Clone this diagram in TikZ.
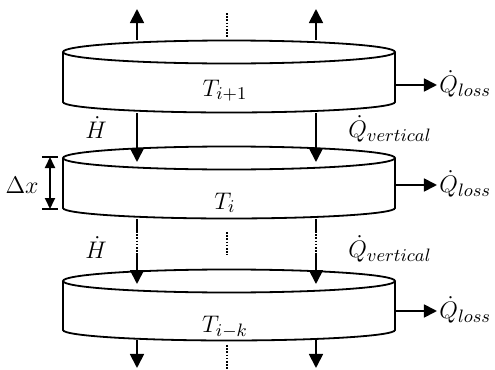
\documentclass[tikz,border=0pt]{standalone}
\usepackage{amsmath}
\usetikzlibrary{arrows.meta,calc}
\tikzset{
  slab/.style={draw=black, line width=0.9pt, fill=white},
  flow/.style={-{Triangle[length=7pt,width=7pt]}, line width=0.9pt},
  lossarrow/.style={-{Triangle[length=6.5pt,width=6.5pt]}, line width=0.9pt},
  dimarrow/.style={{Triangle[length=5.5pt,width=5pt]}-{Triangle[length=5.5pt,width=5pt]}, line width=0.9pt},
  gap/.style={line width=0.6pt, dash pattern=on 0.8pt off 0.8pt},
  lbl/.style={font=\fontsize{13}{15}\selectfont, inner sep=1pt}
}
\begin{document}
\begin{tikzpicture}[x=0.5pt,y=-0.5pt]
\useasboundingbox (0,0) rectangle (495,370);
% slabs
\foreach \yt/\yb in {52/102, 158/208, 281/330}{
  \draw[slab] (63,\yt) -- (63,\yb) arc[start angle=180,end angle=0,x radius=166,y radius=10.5] -- (395,\yt);
  \draw[slab] (229,\yt) ellipse [x radius=166, y radius=11.5];
}
\node[lbl, anchor=base] (t1) at (225,96) {$T_{i+1}$};
\node[lbl, anchor=base] (t2) at (225,209) {$T_{i}$};
\node[lbl, anchor=base] (t3) at (225,332) {$T_{i-k}$};

% flow columns
\foreach \s/\x in {l/137, r/316}{
  \coordinate (\s0) at (\x,9);
  \coordinate (\s1) at (\x,40);
  \coordinate (\s2) at (\x,113);
  \coordinate (\s3) at (\x,162);
  \coordinate (\s4) at (\x,219);
  \coordinate (\s5) at (\x,231);
  \coordinate (\s6) at (\x,253);
  \coordinate (\s7) at (\x,284);
  \coordinate (\s8) at (\x,340);
  \coordinate (\s9) at (\x,368);
}
\foreach \s in {l,r}{
  \draw[flow] (\s1) -- (\s0);
  \draw[flow] (\s2) -- (\s3);
  \draw[line width=0.9pt] (\s4) -- (\s5);
  \draw[gap] (\s5) -- (\s6);
  \draw[flow] (\s6) -- (\s7);
  \draw[flow] (\s8) -- (\s9);
}
\coordinate (c0) at (227,13);
\coordinate (c1) at (227,38);
\coordinate (c2) at (227,232);
\coordinate (c3) at (227,255);
\coordinate (c4) at (227,345);
\coordinate (c5) at (227,370);
\draw[gap] (c0) -- (c1);
\draw[gap] (c2) -- (c3);
\draw[gap] (c4) -- (c5);

% losses
\coordinate (e1) at (395,85);
\coordinate (e2) at (395,185);
\coordinate (e3) at (395,311);
\node[lbl, anchor=west] (q1) at (437,84) {$\dot{Q}_{loss}$};
\node[lbl, anchor=west] (q2) at (437,184) {$\dot{Q}_{loss}$};
\node[lbl, anchor=west] (q3) at (437,310) {$\dot{Q}_{loss}$};
\draw[lossarrow] (e1) -- (e1 -| q1.west);
\draw[lossarrow] (e2) -- (e2 -| q2.west);
\draw[lossarrow] (e3) -- (e3 -| q3.west);

% labels
\node[lbl] (h1) at (96,128) {$\dot{H}$};
\node[lbl] (h2) at (96,248) {$\dot{H}$};
\node[lbl] (v1) at (390,129) {$\dot{Q}_{vertical}$};
\node[lbl] (v2) at (390,249) {$\dot{Q}_{vertical}$};

% slab thickness
\coordinate (dxt) at (50,157);
\coordinate (dxb) at (50,209);
\draw[line width=0.9pt] ([xshift=-4pt]dxt) -- ([xshift=4pt]dxt);
\draw[line width=0.9pt] ([xshift=-4pt]dxb) -- ([xshift=4pt]dxb);
\draw[dimarrow] (dxt) -- (dxb);
\node[lbl] (dx) at (22,185) {$\Delta x$};
\end{tikzpicture}
\end{document}
